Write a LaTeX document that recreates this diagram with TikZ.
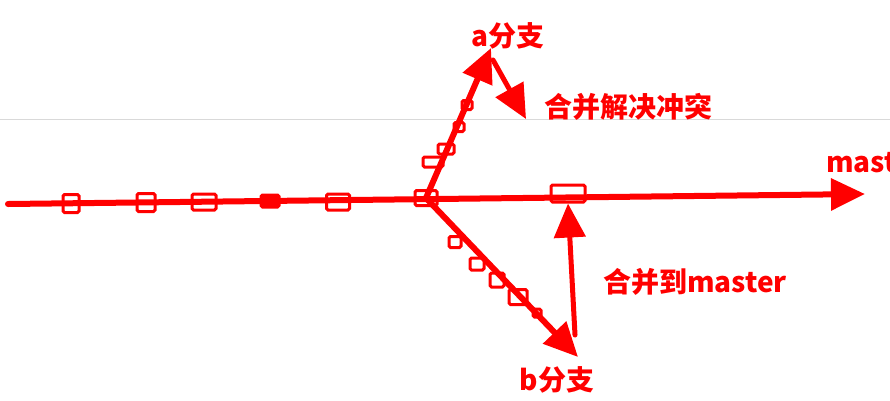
\documentclass[tikz,border=0pt]{standalone}
\usepackage{fontspec}
\newfontfamily\cjk{Noto Sans CJK SC}
\usetikzlibrary{arrows.meta}
\tikzset{
  branch/.style={red,line width=6pt,line cap=round},
  tip/.style={-{Triangle[length=34pt,width=31pt]}},
  commit/.style={draw=red,line width=3pt,fill=white,rounded corners=1.5pt,inner sep=0pt},
  lbl/.style={text=red,font=\cjk\bfseries\fontsize{28}{30}\selectfont,inner sep=0pt},
}
\begin{document}
\begin{tikzpicture}[x=1pt,y=-1pt]
\useasboundingbox (0,0) rectangle (890,400);
\draw[black!15,line width=0.8pt] (0,119) -- (890,119);
% commits on master
\coordinate (start) at (8,204);
\coordinate (end) at (865,194);
\node (c1) at (71,203.5) [commit,minimum width=16pt,minimum height=18pt] {};
\node (c2) at (146,202.5) [commit,minimum width=18pt,minimum height=18pt] {};
\node (c3) at (204,202) [commit,minimum width=24pt,minimum height=16pt] {};
\node (c4) at (270,201) [commit,fill=red,minimum width=18pt,minimum height=12pt] {};
\node (c5) at (338,202) [commit,minimum width=23pt,minimum height=16pt] {};
\node (fork) at (426,198) [commit,minimum width=22pt,minimum height=15pt] {};
\node (merge) at (568,193.5) [commit,minimum width=34pt,minimum height=17pt] {};
\draw[branch,tip] (start) -- (end);
% a branch
\node (a1) at (433,162) [commit,minimum width=20pt,minimum height=10pt] {};
\node (a2) at (446,149) [commit,minimum width=16pt,minimum height=10pt] {};
\node (a3) at (459,127) [commit,minimum width=10pt,minimum height=9pt] {};
\node (a4) at (467,105) [commit,minimum width=10pt,minimum height=9pt] {};
\coordinate (atip) at (491,48);
\draw[branch,tip] (fork.center) -- (atip);
\coordinate (cstart) at (493,60);
\coordinate (cend) at (526,119);
\draw[branch,line width=5pt,tip] (cstart) -- (cend);
% b branch
\node (b1) at (455,242) [commit,minimum width=12pt,minimum height=11pt] {};
\node (b2) at (477,264) [commit,minimum width=14pt,minimum height=12pt] {};
\node (b3) at (497,280) [commit,minimum width=14pt,minimum height=14pt] {};
\node (b4) at (518,297) [commit,minimum width=18pt,minimum height=15pt] {};
\node (b5) at (537,313) [commit,minimum width=8pt,minimum height=8pt] {};
\coordinate (btip) at (578,357);
\draw[branch,tip] (fork.center) -- (btip);
\coordinate (bmerge) at (575,335);
\draw[branch,line width=5pt,tip] (bmerge) -- (merge.south);
% labels
\node (alabel) at (508,36) [lbl] {a分支};
\node (conflabel) at (628,107) [lbl] {合并解决冲突};
\node (masterlabel) at (826,163) [lbl,anchor=west] {master};
\node (mergelabel) at (695,282) [lbl] {合并到master};
\node (blabel) at (557,380) [lbl] {b分支};
\end{tikzpicture}
\end{document}
